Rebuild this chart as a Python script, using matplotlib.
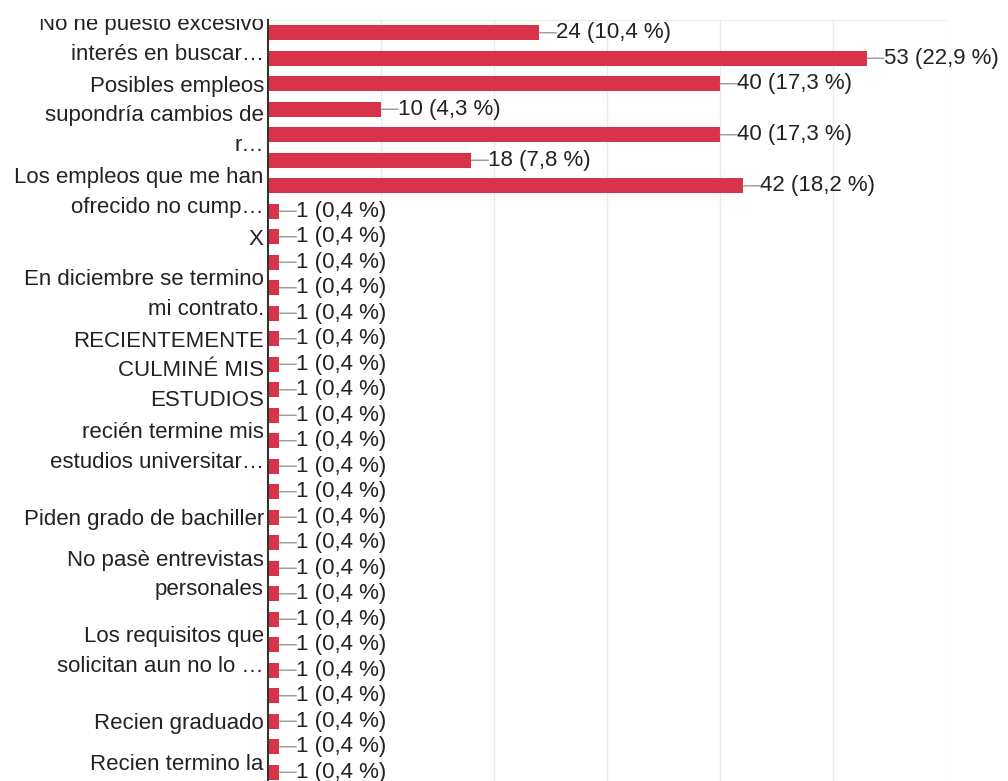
import matplotlib
matplotlib.use("Agg")
import matplotlib.pyplot as plt
from matplotlib.transforms import Bbox

plt.rcParams["font.family"] = ["Liberation Sans", "DejaVu Sans"]

# answers as shown (hidden labels left blank, Google skips them when crowded)
labels = [
    "No he puesto excesivo\ninterés en buscar…", "", "",
    "Posibles empleos\nsupondría cambios de\nr…", "", "",
    "Los empleos que me han\nofrecido no cump…", "",
    "X", "",
    "En diciembre se termino\nmi contrato.", "", "",
    "RECIENTEMENTE\nCULMINÉ MIS\nESTUDIOS", "", "",
    "recién termine mis\nestudios universitar…", "", "",
    "Piden grado de bachiller", "",
    "No pasè entrevistas\npersonales", "", "",
    "Los requisitos que\nsolicitan aun no lo …", "", "",
    "Recien graduado", "",
    "Recien termino la\n",
]
counts = [24, 53, 40, 10, 40, 18, 42] + [1] * 23
TOTAL = 231
x_ticks = [10, 20, 30, 40, 50, 60]

BAR = "#d9334a"
TXT = "#222222"

fig = plt.figure(figsize=(10.08, 7.81), dpi=100)
ax = fig.add_axes([268 / 1008, 0, 678 / 1008, 1 - 20 / 781])

rows = list(range(len(counts)))
ax.barh(rows, counts, height=0.6, color=BAR, zorder=3)

ax.set_xlim(0, 60)
ax.set_ylim(29.343, -0.5)
ax.set_xticks(x_ticks)
ax.xaxis.grid(True, color="#ebebeb", linewidth=1)
ax.tick_params(axis="x", length=0, labelbottom=False)
ax.set_yticks(rows)
ax.set_yticklabels(labels, fontsize=16, color=TXT, ha="right", linespacing=1.53)
ax.tick_params(axis="y", length=0, pad=3)

# labels are clipped at the top of the chart area, like the original
clip = Bbox.from_extents(0, 0, 1008, 781 - 19)
for t in ax.get_yticklabels():
    t.set_clip_box(clip)
    t.set_clip_on(True)

for s in ["right", "bottom"]:
    ax.spines[s].set_visible(False)
ax.spines["top"].set_color("#ebebeb")
ax.spines["left"].set_color("#333333")
ax.spines["left"].set_linewidth(1.5)
ax.spines["left"].set_zorder(4)

for i, c in enumerate(counts):
    pct = f"{c / TOTAL * 100:.1f}".replace(".", ",")
    ax.annotate("", xy=(c, i), xytext=(17, 0), textcoords="offset pixels",
                arrowprops=dict(arrowstyle="-", color="#999999", lw=1,
                                shrinkA=0, shrinkB=0),
                annotation_clip=False)
    ax.annotate(f"{c} ({pct} %)", xy=(c, i), xytext=(17, 0),
                textcoords="offset pixels", va="center", ha="left",
                fontsize=16, color=TXT, annotation_clip=False)

fig.savefig("out.png", dpi=100)
